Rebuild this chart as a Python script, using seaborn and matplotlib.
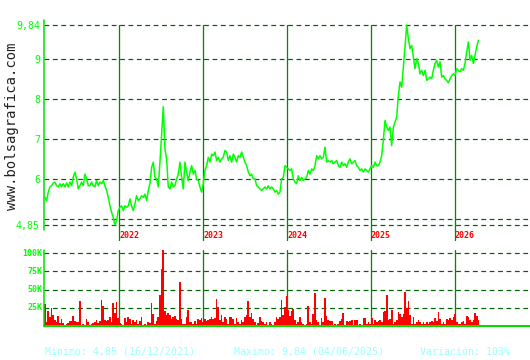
import numpy as np
import pandas as pd
import matplotlib
matplotlib.use("Agg")
import matplotlib.pyplot as plt
import matplotlib.transforms as mtransforms
import seaborn as sns

# ---------------- data ----------------
price_2021 = [5.55, 5.45, 5.67, 5.8, 5.83, 5.9, 5.92, 5.83, 5.8, 5.88, 5.8, 5.88, 5.8, 5.9,
              5.8, 5.92, 5.83, 6.05, 6.17, 6.0, 5.75, 5.83, 5.92, 5.83, 6.12, 6.0, 5.83,
              5.83, 5.92, 5.83, 5.8, 5.96, 5.83, 5.92, 5.88, 5.96, 5.83, 5.71, 5.54, 5.33,
              5.17, 5.04, 4.85, 4.96, 5.21, 5.29, 5.33, 5.21, 5.33, 5.29, 5.33, 5.5, 5.33,
              5.21, 5.38, 5.58, 5.46, 5.5, 5.58, 5.54, 5.62, 5.46, 5.71, 5.88, 6.29, 6.42,
              6.04, 6.0, 5.8, 6.42, 7.12, 7.8]
price_2022 = [6.75, 6.5, 5.8, 5.75, 5.92, 5.8, 5.83, 6.0, 6.12, 6.42, 6.04, 5.75, 6.42, 6.17,
              5.96, 6.17, 6.33, 6.12, 6.21, 6.0, 5.96, 5.8, 5.67, 5.88, 6.21, 6.33, 6.54,
              6.42, 6.62, 6.58, 6.67, 6.46, 6.54, 6.42, 6.5, 6.54, 6.71, 6.67, 6.46, 6.58,
              6.42, 6.62, 6.54, 6.42, 6.58, 6.54, 6.67, 6.54, 6.42, 6.33, 6.17, 6.08, 6.12,
              6.0, 6.0, 5.83, 5.8, 5.75, 5.71, 5.75, 5.8, 5.75, 5.83, 5.75, 5.8, 5.75, 5.67,
              5.71, 5.62, 5.67, 6.0, 6.04, 6.33, 6.29, 6.25]
price_2024 = [6.21, 6.25, 6.0, 5.92, 5.88, 6.08, 5.96, 6.04, 5.96, 6.0, 6.04, 6.21, 6.12,
              6.25, 6.21, 6.33, 6.58, 6.5, 6.58, 6.5, 6.54, 6.79, 6.42, 6.46, 6.42, 6.46,
              6.38, 6.42, 6.46, 6.33, 6.29, 6.42, 6.33, 6.38, 6.29, 6.42, 6.5, 6.38, 6.42,
              6.46, 6.33, 6.29, 6.21, 6.25, 6.17, 6.25, 6.21, 6.17, 6.25, 6.33, 6.29, 6.42,
              6.33, 6.33, 6.42]
price_2025 = [6.58, 6.96, 7.46, 7.29, 7.21, 7.29, 6.83, 7.29, 7.42, 7.54, 8.08, 8.42, 8.29,
              8.79, 9.29, 9.84, 9.5, 9.25, 9.33, 9.04, 8.75, 9.0, 8.88, 8.62, 8.71, 8.58,
              8.71, 8.46, 8.5, 8.54, 8.5, 8.71, 8.88, 8.96, 8.79, 8.92, 8.54, 8.58, 8.5,
              8.46, 8.4, 8.5, 8.58, 8.62, 8.58, 8.75, 8.71, 8.67, 8.75, 8.71, 8.88, 9.17,
              9.42, 8.96, 9.08, 8.88, 9.08, 9.29, 9.46]

volume_a = [30, 6, 21, 13, 25, 15, 8, 6, 14, 4, 10, 4, 2, 3, 4, 7, 7, 14, 7, 5, 6, 34, 1, 3,
            2, 9, 5, 2, 3, 4, 5, 8, 4, 7, 36, 28, 8, 7, 8, 12, 6, 31, 18, 33, 11, 4, 3, 2,
            11, 5, 13, 10, 3, 8, 5, 8, 3, 7, 13, 2, 3, 2, 5, 4, 32, 16, 3, 7, 13, 43, 78,
            105, 21, 15, 18, 15, 10, 13, 14, 10, 8, 60, 10, 3]
volume_b = [3, 13, 22, 6, 5, 3, 7, 3, 10, 8, 11, 5, 10, 7, 8, 10, 12, 10, 11, 37, 26, 8, 15,
            5, 13, 10, 3, 13, 12, 10, 3, 11, 6, 3, 8, 6, 12, 15, 34, 13, 18, 10, 5, 2, 4,
            12, 7, 5, 3, 5, 2, 5, 3, 2, 6, 13, 10, 12, 36, 15, 26, 41, 22, 14, 20, 24, 8,
            3, 6, 13, 5, 3, 2, 3, 28, 5, 3, 16, 45, 8, 5, 2, 11, 5, 39, 14, 8]
volume_c = [7, 7, 2, 3, 2, 3, 7, 10, 18, 2, 7, 5, 7, 8, 2, 8, 8, 2, 3, 2, 11, 11, 3, 5, 3,
            11, 3, 8, 5, 7, 8, 5, 19, 21, 42, 8, 10, 22, 3, 6, 8, 19, 16, 13, 16, 47, 25,
            35, 15, 3, 13, 3, 5, 8, 6, 3, 5, 3, 5, 3, 5, 7, 5, 11, 7, 19, 10, 3, 6, 3, 10,
            8, 11, 8, 12, 16, 5, 3, 3, 5, 7, 3, 14, 12, 8, 6, 8, 18, 14, 8]

price = price_2021 + price_2022 + price_2024 + price_2025
volume_k = volume_a + volume_b + volume_c
first_day, last_day = "2021-02-10", "2026-04-14"
years = ["2022", "2023", "2024", "2025", "2026"]
price_ticks = [9.84, 9, 8, 7, 6, 4.85]
price_tick_labels = ["9,84", "9", "8", "7", "6", "4,85"]
price_grid = [9.84, 9, 8, 7, 6, 5, 4.85]
vol_ticks = [100, 75, 50, 25]
vol_tick_labels = ["100K", "75K", "50K", "25K"]
footer = ["Minimo: 4,85 (16/12/2021)", "Maximo: 9,84 (04/06/2025)", "Variación: 103%"]

dates = pd.date_range(first_day, last_day, periods=len(price))
df = pd.DataFrame({"date": dates, "price": price, "volume": volume_k})

# ---------------- style ----------------
sns.set_style("white")
plt.rcParams["font.family"] = ["DejaVu Sans Mono", "DejaVu Sans"]

W, H = 530, 360
fig = plt.figure(figsize=(W / 100, H / 100), dpi=100, facecolor="white")
PX = 72 / 100  # one pixel in points

GRID = "#006400"
VLINE = "#008a00"
AXIS = "#00dd00"
BRIGHT = "#00ff00"

xlim = (pd.Timestamp("2021-02-06"), pd.Timestamp("2026-11-25"))

# ---------------- price panel ----------------
ax1 = fig.add_axes([44 / W, 1 - 240 / H, 486 / W, 220 / H])
ax1.set_facecolor("white")
for s in ax1.spines.values():
    s.set_visible(False)
ax1.set_xticks([])
ax1.set_yticks([])
ax1.set_xlim(*xlim)
per_px = (9.84 - 4.85) / 200
ax1.set_ylim(4.85 - 15 * per_px, 9.84 + 5 * per_px)

for v in price_grid:
    ax1.axhline(v, color=GRID, lw=PX * 1.2, dashes=(4, 3), zorder=1)
top_frac = (240 - 25) / 220
for y in years:
    ax1.axvline(pd.Timestamp(f"{y}-01-01"), ymin=0, ymax=top_frac, color=VLINE,
                lw=PX * 1.3, zorder=1, clip_on=False)
ax1.axvline(xlim[0], ymin=10 / 220, ymax=1, color=AXIS, lw=PX * 1.5, clip_on=False)

sns.lineplot(data=df, x="date", y="price", ax=ax1, color=BRIGHT, lw=1.1, zorder=3,
             legend=False)
ax1.set_xlabel("")
ax1.set_ylabel("")

tr1 = mtransforms.blended_transform_factory(ax1.transAxes, ax1.transData)
for v, lab in zip(price_ticks, price_tick_labels):
    ax1.text(-4 / 486, v - 1.5 * per_px, lab, transform=tr1, ha="right", va="center",
             color=BRIGHT, fontsize=7.2)
tr1b = mtransforms.blended_transform_factory(ax1.transData, ax1.transAxes)
for y in years:
    ax1.text(pd.Timestamp(f"{y}-01-01"), 4 / 220, y, transform=tr1b, ha="left",
             va="center", color="red", fontsize=6, fontweight="bold")

# ---------------- volume panel ----------------
ax2 = fig.add_axes([44 / W, 1 - 326 / H, 486 / W, 76 / H])
ax2.set_facecolor("white")
for s in ax2.spines.values():
    s.set_visible(False)
ax2.set_xlim(*xlim)
vpp = 100 / 72.7
ax2.set_ylim(0, 100 + 3.3 * vpp)
ax2.bar(df["date"], df["volume"], width=7.3, color="#ff0000", linewidth=0, zorder=2)
ax2.set_xticks([])
ax2.set_yticks([])
for v in vol_ticks:
    ax2.axhline(v, color=GRID, lw=PX * 1.2, dashes=(4, 3), zorder=1)
for y in years:
    ax2.axvline(pd.Timestamp(f"{y}-01-01"), color=VLINE, lw=PX * 1.3, zorder=1)
ax2.axhline(0, color=AXIS, lw=PX * 2, clip_on=False, zorder=4)
ax2.axvline(xlim[0], color=AXIS, lw=PX * 1.5, clip_on=False, zorder=4)
tr2 = mtransforms.blended_transform_factory(ax2.transAxes, ax2.transData)
for v, lab in zip(vol_ticks, vol_tick_labels):
    ax2.text(-1.5 / 486, v, lab, transform=tr2, ha="right", va="center",
             color=BRIGHT, fontsize=6, fontweight="bold")

# ---------------- texts ----------------
fig.text(12 / W, 1 - 126 / H, "www.bolsagrafica.com", rotation=90, ha="center",
         va="center", fontsize=10, color="#222222")
for xpix, txt in zip([45, 234, 420], footer):
    fig.text(xpix / W, 1 - 352 / H, txt, ha="left", va="center", fontsize=7.1,
             color="#99ffff")

fig.savefig("out.png", dpi=100, facecolor="white")
